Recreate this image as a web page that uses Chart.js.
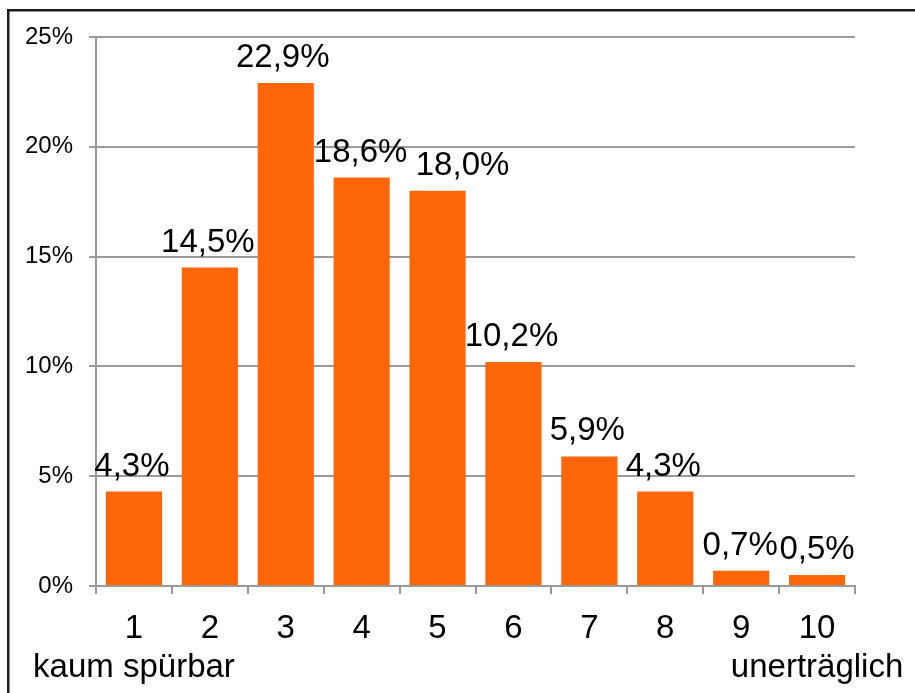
<html>
  <head>
    <script type="text/javascript" src="https://cdn.jsdelivr.net/npm/chart.js@4/dist/chart.umd.min.js"></script>
    <style>
      body { margin: 0; background: #fff; }
    </style>
  </head>
  <body>
    <canvas id="chart" width="915" height="693"></canvas>
    <script type="text/javascript">

var categories = ["1", "2", "3", "4", "5", "6", "7", "8", "9", "10"]
var sublabels = ["kaum spürbar", "", "", "", "", "", "", "", "", "unerträglich"]
var values = [4.3, 14.5, 22.9, 18.6, 18.0, 10.2, 5.9, 4.3, 0.7, 0.5]
var yTicks = [0, 5, 10, 15, 20, 25]

var FONT = "'Liberation Sans', Arial, sans-serif"

// horizontal nudge of the value labels (label 5 is pushed right, off label 4)
var labelShift = [-2, -2, -3, -1, 25, -2, -2, -2, -1, 0]

function fmt(v) {
  return v.toFixed(1).replace(".", ",") + "%"
}

// frame lines (top + left) and value labels above the bars
var extras = {
  id: "extras",
  beforeDraw: function (chart) {
    var ctx = chart.ctx
    ctx.save()
    ctx.fillStyle = "#fff"
    ctx.fillRect(0, 0, chart.width, chart.height)
    ctx.fillStyle = "#1c1c1c"
    ctx.fillRect(7, 9, chart.width, 2.5)
    ctx.fillRect(7, 9, 2.5, chart.height)
    ctx.restore()
  },
  afterDatasetsDraw: function (chart) {
    var ctx = chart.ctx
    var meta = chart.getDatasetMeta(0)
    ctx.save()
    ctx.font = "33px " + FONT
    ctx.fillStyle = "#000"
    ctx.textAlign = "center"
    ctx.textBaseline = "alphabetic"
    meta.data.forEach(function (bar, i) {
      ctx.fillText(fmt(values[i]), bar.x + labelShift[i], bar.y - 16)
    })
    ctx.restore()
  }
}

var labels = categories.map(function (c, i) {
  return [c, sublabels[i]]
})

var ctx = document.getElementById("chart").getContext("2d")

var config = {
  type: "bar",
  data: {
    labels: labels,
    datasets: [{
      data: values,
      backgroundColor: "#ff660a",
      borderWidth: 0,
      barPercentage: 0.74,
      categoryPercentage: 1.0
    }]
  },
  options: {
    responsive: false,
    animation: false,
    layout: {
      padding: { top: 37, right: 60, left: 0, bottom: 0 }
    },
    plugins: {
      legend: { display: false },
      tooltip: { enabled: false }
    },
    scales: {
      x: {
        afterFit: function (scale) {
          scale.height = 107
          // let the long end labels hang outside the plot area
          scale.paddingLeft = 0
          scale.paddingRight = 0
        },
        grid: {
          drawOnChartArea: false,
          drawTicks: true,
          tickLength: 8,
          color: "#9a9a9a",
          lineWidth: 2
        },
        border: { color: "#9a9a9a", width: 2 },
        ticks: {
          autoSkip: false,
          maxRotation: 0,
          padding: 16,
          color: "#000",
          font: { family: FONT, size: 33, lineHeight: 1.16 }
        }
      },
      y: {
        min: 0,
        max: 25,
        afterFit: function (scale) { scale.width = 96 },
        afterBuildTicks: function (scale) {
          scale.ticks = yTicks.map(function (v) { return { value: v } })
        },
        grid: {
          color: "#9a9a9a",
          lineWidth: 2,
          tickLength: 7
        },
        border: { color: "#9a9a9a", width: 2 },
        ticks: {
          padding: 16,
          color: "#000",
          font: { family: FONT, size: 24 },
          callback: function (v) { return v + "%" }
        }
      }
    }
  },
  plugins: [extras]
}

var chart = new Chart(ctx, config)

    </script>
  </body>
</html>
